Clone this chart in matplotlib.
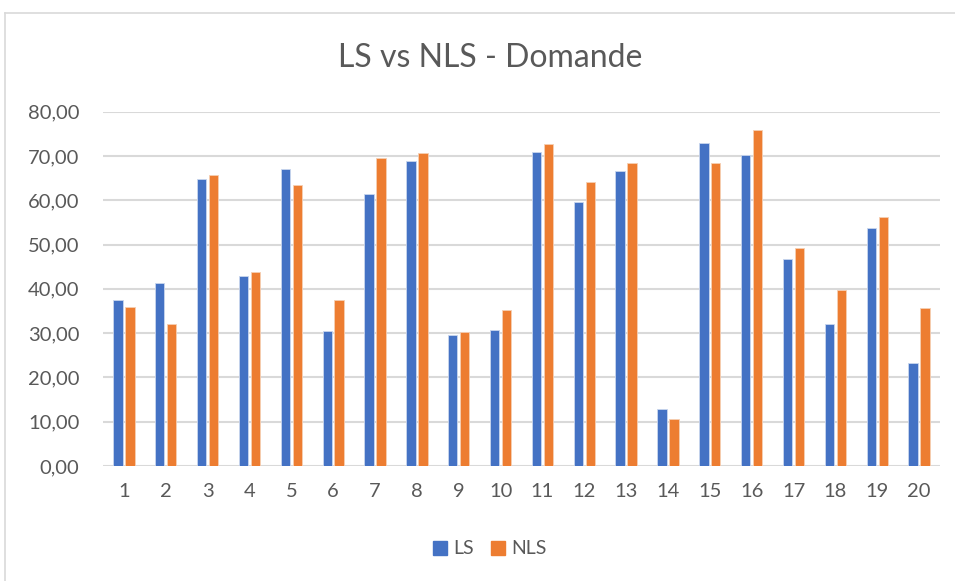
import matplotlib.pyplot as plt
import numpy as np
from matplotlib.lines import Line2D
from matplotlib.patches import Patch

# data
categories = [str(i) for i in range(1, 21)]
ls_values = [37.4, 41.3, 64.8, 43.0, 67.1, 30.5, 61.4, 68.9, 29.5, 30.6,
             70.8, 59.6, 66.5, 12.9, 72.9, 70.2, 46.7, 32.0, 53.8, 23.2]
nls_values = [35.9, 32.0, 65.6, 43.9, 63.4, 37.4, 69.5, 70.6, 30.3, 35.2,
              72.8, 64.1, 68.5, 10.6, 68.5, 75.9, 49.2, 39.8, 56.3, 35.6]
y_ticks = [0, 10, 20, 30, 40, 50, 60, 70, 80]

plt.rcParams['font.family'] = ['Lato', 'DejaVu Sans']
text_col = '#595959'
blue = '#4472C4'
orange = '#ED7D31'

fig = plt.figure(figsize=(9.55, 5.81), dpi=100)
ax = fig.add_axes([103 / 955, 1 - 466 / 581, (940 - 103) / 955, (466 - 111.7) / 581])

x = np.arange(len(categories))
w = 0.223
ax.bar(x - 0.143, ls_values, w, color=blue, edgecolor='#c9d6ee', linewidth=0.6, zorder=3)
ax.bar(x + 0.143, nls_values, w, color=orange, edgecolor='#f6cfb3', linewidth=0.6, zorder=3)

ax.set_xlim(-0.5, len(categories) - 0.5)
ax.set_ylim(0, 80)
ax.set_yticks(y_ticks)
ax.set_yticklabels([f'{v:.2f}'.replace('.', ',') for v in y_ticks])
ax.set_xticks(x)
ax.set_xticklabels(categories)
ax.tick_params(axis='both', length=0, labelsize=14.5, colors=text_col)
ax.tick_params(axis='y', pad=17)
ax.tick_params(axis='x', pad=12)
ax.yaxis.grid(True, color='#D9D9D9', linewidth=1.5, zorder=0)
for s in ax.spines.values():
    s.set_visible(False)

fig.text(0.513, 1 - 58 / 581, 'LS vs NLS - Domande', ha='center', va='center',
         fontsize=23, color=text_col)

handles = [Patch(color=blue, label='LS'), Patch(color=orange, label='NLS')]
fig.legend(handles=handles, loc='center', bbox_to_anchor=(0.513, 1 - 549 / 581),
           ncol=2, frameon=False, fontsize=14, handlelength=0.72, handleheight=0.72,
           handletextpad=0.3, columnspacing=0.9, labelcolor=text_col)

# outer chart border
fig.add_artist(Line2D([5 / 955, 1], [1 - 13 / 581] * 2, color='#D9D9D9', linewidth=1.2))
fig.add_artist(Line2D([5 / 955] * 2, [0, 1 - 13 / 581], color='#D9D9D9', linewidth=1.2))

plt.savefig('out.png', dpi=100)
